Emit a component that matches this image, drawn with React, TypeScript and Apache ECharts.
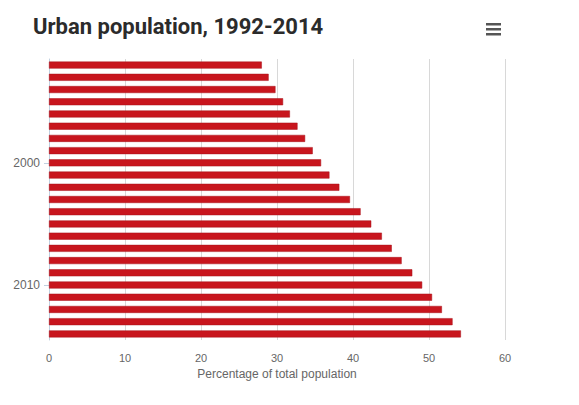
import React, { useEffect, useRef } from 'react';
import * as echarts from 'echarts';

const years: string[] = [
  '1992', '1993', '1994', '1995', '1996', '1997', '1998', '1999', '2000', '2001', '2002', '2003',
  '2004', '2005', '2006', '2007', '2008', '2009', '2010', '2011', '2012', '2013', '2014',
];
const urbanShare: number[] = [
  28.0, 28.9, 29.8, 30.8, 31.7, 32.7, 33.7, 34.7, 35.8, 36.9, 38.2, 39.6,
  41.0, 42.4, 43.8, 45.1, 46.4, 47.8, 49.1, 50.4, 51.7, 53.1, 54.2,
];
const labelledYears: string[] = ['2000', '2010'];

const App: React.FC = () => {
  const chartRef = useRef<HTMLDivElement>(null);

  useEffect(() => {
    if (!chartRef.current) return;
    const myChart = echarts.init(chartRef.current, null, { renderer: 'svg' });

    const showYear = (index: number) => labelledYears.includes(years[index]);

    const option: echarts.EChartsOption = {
      animation: false,
      backgroundColor: '#ffffff',
      title: {
        text: 'Urban population, 1992-2014',
        left: 28,
        top: 10,
        textStyle: {
          fontFamily: 'Roboto',
          fontWeight: 'bold',
          fontSize: 22,
          color: '#2b2b2b',
        },
      },
      graphic: [
        { type: 'rect', shape: { x: 486, y: 23, width: 15, height: 2.5 }, style: { fill: '#555' } },
        { type: 'rect', shape: { x: 486, y: 28, width: 15, height: 2.5 }, style: { fill: '#555' } },
        { type: 'rect', shape: { x: 486, y: 33, width: 15, height: 2.5 }, style: { fill: '#555' } },
      ],
      grid: { left: 49, right: 74, top: 59, bottom: 65 },
      xAxis: {
        type: 'value',
        min: 0,
        max: 60,
        interval: 10,
        name: 'Percentage of total population',
        nameLocation: 'middle',
        nameGap: 28,
        nameTextStyle: { color: '#666', fontSize: 12, fontFamily: 'Arial, Liberation Sans' },
        axisLine: { show: false },
        axisTick: { show: false },
        axisLabel: { color: '#666', fontSize: 11, margin: 12, fontFamily: 'Arial, Liberation Sans' },
        splitLine: { lineStyle: { color: '#d8d8d8' } },
      },
      yAxis: {
        type: 'category',
        data: years,
        inverse: true,
        axisLine: { show: true, lineStyle: { color: '#c0d0e0' } },
        axisTick: {
          show: true,
          alignWithLabel: true,
          interval: (index: number) => showYear(index),
          length: 5,
          lineStyle: { color: '#c0d0e0' },
        },
        axisLabel: {
          interval: (index: number) => showYear(index),
          color: '#666',
          fontSize: 12,
          margin: 9,
          fontFamily: 'Arial, Liberation Sans',
        },
      },
      series: [
        {
          type: 'bar',
          data: urbanShare,
          barWidth: 7,
          itemStyle: { color: '#c8151d', borderColor: '#a8121a', borderWidth: 0.5 },
        },
      ],
    };

    myChart.setOption(option);
    return () => {
      myChart.dispose();
    };
  }, []);

  return (
    <div
      ref={chartRef}
      style={{ position: 'fixed', left: 0, top: 0, width: '579px', height: '405px' }}
    />
  );
};

export default App;
